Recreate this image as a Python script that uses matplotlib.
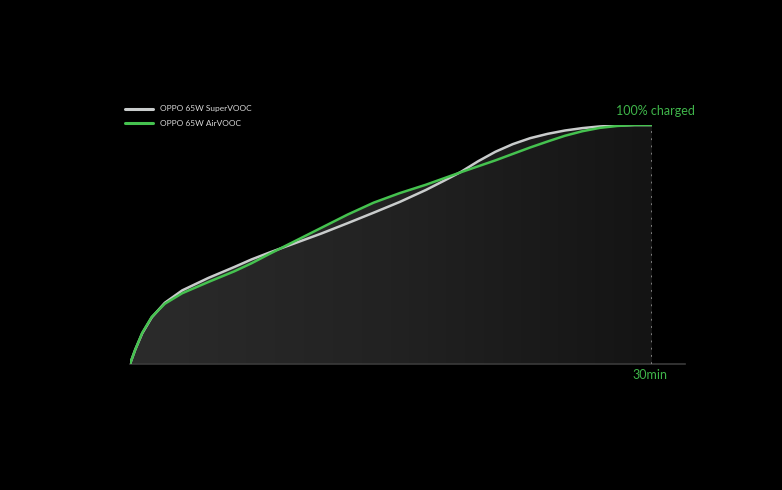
import numpy as np
import matplotlib.pyplot as plt
from matplotlib.colors import LinearSegmentedColormap

plt.rcParams["font.family"] = ["Lato", "DejaVu Sans"]

# charging time in minutes
minutes = [0, 0.3, 0.7, 1.25, 2, 3, 4.5, 6, 7, 8, 9.5, 11, 12.5, 14, 15.5,
           17, 18, 19, 20, 21, 22, 23, 24, 25, 26, 27, 28, 29, 30]
# battery level in percent
supervooc = [0, 6, 12.8, 19.5, 25.6, 30.8, 36, 40.6, 43.8, 46.6, 50.6,
             54.6, 58.9, 63.3, 67.8, 72.8, 76.5, 80.3, 84.8, 88.8, 92, 94.5, 96.3,
             97.7, 98.7, 99.4, 99.8, 100, 100]
airvooc = [0, 6, 13, 19.7, 25.2, 29.6, 34.3, 38.8, 42.2, 46, 51.5, 57,
           62.5, 67.5, 71.5, 75, 77.6, 80.2, 82.7, 85.2, 87.9, 90.6, 93.1, 95.5,
           97.4, 98.8, 99.6, 100, 100]
labels = ["OPPO 65W SuperVOOC", "OPPO 65W AirVOOC"]

GREEN = "#45c24f"
GREY = "#c9cccc"
TEXT_GREEN = "#3fb54a"

fig = plt.figure(figsize=(7.82, 4.90), dpi=100, facecolor="black")
ax = fig.add_axes([130 / 782, (490 - 364) / 490, 522 / 782, 239 / 490])
ax.set_facecolor("black")
ax.set_xlim(0, 30)
ax.set_ylim(0, 100)
ax.axis("off")

t = np.array(minutes)
top = np.maximum(supervooc, airvooc)

# dark gradient fill under the curves
poly = ax.fill_between(t, 0, top, color="none", lw=0)
cmap = LinearSegmentedColormap.from_list("fill", ["#2b2b2b", "#222222", "#141414"])
grad = np.linspace(0, 1, 256).reshape(1, -1)
img = ax.imshow(grad, extent=[0, 30, 0, 100], aspect="auto", cmap=cmap,
                origin="lower", zorder=1)
img.set_clip_path(poly.get_paths()[0], transform=ax.transData)

# baseline and dotted end marker
ax.plot([0, 31.9], [0, 0], color="#3a3a3a", lw=1.2, clip_on=False, zorder=2)
ax.plot([30, 30], [0, 100], color="#8a8a8a", lw=1.3, ls=(0, (1, 3)),
        zorder=2)

l1, = ax.plot(t, supervooc, color=GREY, lw=1.8, zorder=3,
              solid_capstyle="round", solid_joinstyle="round", label=labels[0])
l2, = ax.plot(t, airvooc, color=GREEN, lw=1.8, zorder=4,
              solid_capstyle="round", solid_joinstyle="round", label=labels[1])

ax.text(30.2, 106, "100% charged", color=TEXT_GREEN, fontsize=9,
        ha="center", va="center", clip_on=False)
ax.text(29.9, -4.5, "30min", color=TEXT_GREEN, fontsize=9,
        ha="center", va="center", clip_on=False)

leg = fig.legend(handles=[l1, l2], loc="upper left",
                 bbox_to_anchor=(118 / 782, 1 - 98 / 490), frameon=False,
                 fontsize=6, handlelength=3.3, handletextpad=0.9,
                 labelspacing=0.95, labelcolor="#d8d8d8")
for line in leg.get_lines():
    line.set_linewidth(2.2)

fig.savefig("out.png", dpi=100, facecolor="black")
